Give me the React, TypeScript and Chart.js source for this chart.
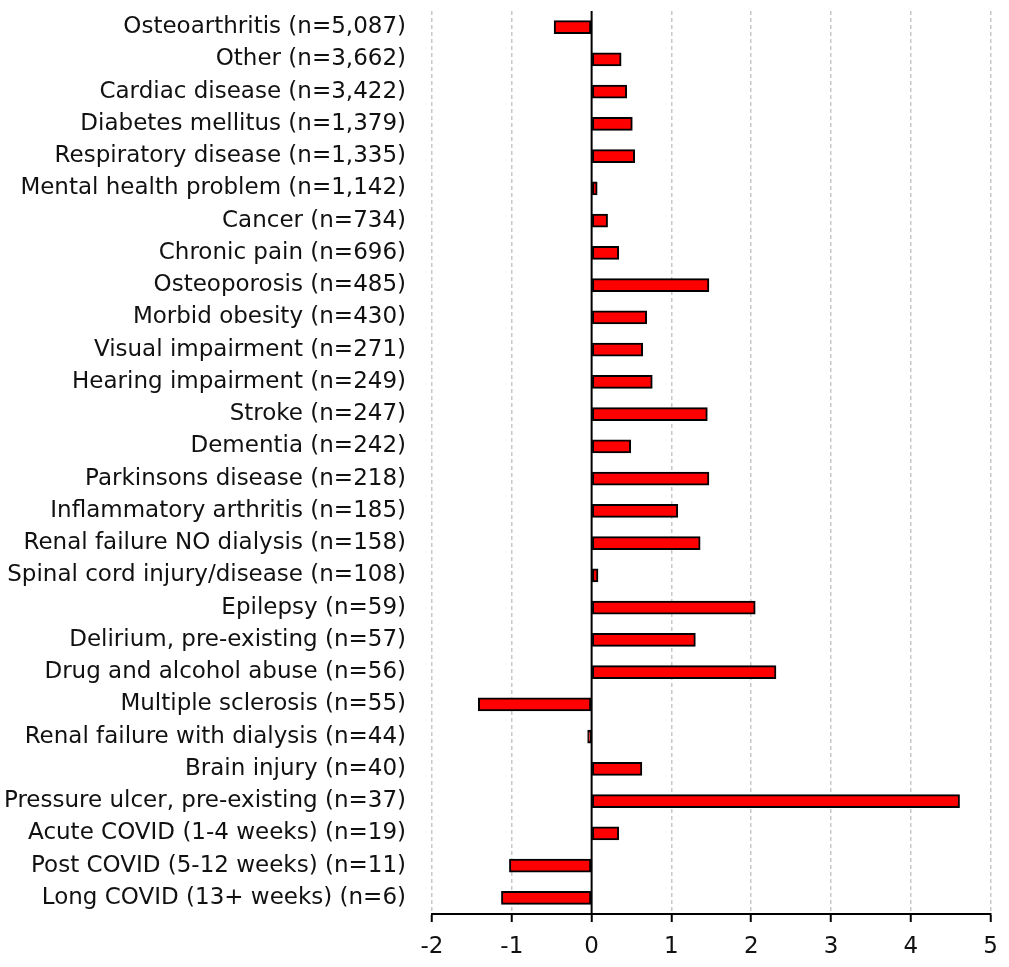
import React, { useEffect, useRef } from "react";
import { Chart, registerables } from "chart.js";

Chart.register(...registerables);

const categories = [
  "Osteoarthritis (n=5,087)",
  "Other (n=3,662)",
  "Cardiac disease (n=3,422)",
  "Diabetes mellitus (n=1,379)",
  "Respiratory disease (n=1,335)",
  "Mental health problem (n=1,142)",
  "Cancer (n=734)",
  "Chronic pain (n=696)",
  "Osteoporosis (n=485)",
  "Morbid obesity (n=430)",
  "Visual impairment (n=271)",
  "Hearing impairment (n=249)",
  "Stroke (n=247)",
  "Dementia (n=242)",
  "Parkinsons disease (n=218)",
  "Inflammatory arthritis (n=185)",
  "Renal failure NO dialysis (n=158)",
  "Spinal cord injury/disease (n=108)",
  "Epilepsy (n=59)",
  "Delirium, pre-existing (n=57)",
  "Drug and alcohol abuse (n=56)",
  "Multiple sclerosis (n=55)",
  "Renal failure with dialysis (n=44)",
  "Brain injury (n=40)",
  "Pressure ulcer, pre-existing (n=37)",
  "Acute COVID (1-4 weeks) (n=19)",
  "Post COVID (5-12 weeks) (n=11)",
  "Long COVID (13+ weeks) (n=6)",
];

const values = [
  -0.47, 0.37, 0.44, 0.51, 0.54, 0.07, 0.2, 0.34, 1.47, 0.69, 0.64, 0.76,
  1.45, 0.49, 1.47, 1.08, 1.36, 0.08, 2.05, 1.3, 2.31, -1.42, -0.05, 0.63,
  4.61, 0.34, -1.03, -1.13,
];

const xMin = -2;
const xMax = 5;
const FONT = "'DejaVu Sans'";

const zeroLine = {
  id: "zeroLine",
  afterDatasetsDraw(chart: any) {
    const { ctx, chartArea, scales } = chart;
    const x = scales.x.getPixelForValue(0);
    ctx.save();
    ctx.strokeStyle = "#000";
    ctx.lineWidth = 2;
    ctx.beginPath();
    ctx.moveTo(x, chartArea.top);
    ctx.lineTo(x, chartArea.bottom);
    ctx.stroke();
    ctx.restore();
  },
};

export default function App() {
  const ref = useRef<HTMLCanvasElement | null>(null);
  useEffect(() => {
    if (!ref.current) return;
    const chart = new Chart(ref.current, {
      type: "bar",
      data: {
        labels: categories,
        datasets: [
          {
            data: values,
            backgroundColor: "#ff0000",
            borderColor: "#000",
            borderWidth: 2,
            barThickness: 13,
            borderSkipped: false,
          },
        ],
      },
      options: {
        indexAxis: "y",
        animation: false,
        responsive: false,
        layout: { padding: { top: 11, right: 16, bottom: 0, left: 0 } },
        plugins: { legend: { display: false }, tooltip: { enabled: false } },
        scales: {
          x: {
            type: "linear",
            min: xMin,
            max: xMax,
            afterFit: (scale: any) => {
              scale.height = 53;
            },
            ticks: {
              stepSize: 1,
              color: "#111",
              padding: 11,
              font: { family: FONT, size: 23 },
            },
            grid: {
              color: (c: any) =>
                c.tick && c.tick.value === 0 ? "rgba(0,0,0,0)" : "#c8c8c8",
              lineWidth: 1.5,
              drawTicks: true,
              tickLength: 8,
              tickColor: "#000",
              tickWidth: 2,
              tickBorderDash: [],
            },
            border: { display: true, color: "#000", width: 2, dash: [4, 3] },
          },
          y: {
            type: "category",
            afterFit: (scale: any) => {
              scale.width = 432;
              scale.paddingTop = 0;
              scale.paddingBottom = 0;
            },
            ticks: {
              autoSkip: false,
              color: "#111",
              padding: 26,
              font: { family: FONT, size: 23 },
            },
            grid: { display: false, drawTicks: false },
            border: { display: false },
          },
        },
      },
      plugins: [zeroLine],
    });
    return () => chart.destroy();
  }, []);
  return (
    <div style={{ position: "absolute", left: 0, top: 0, width: 1009, height: 967 }}>
      <canvas ref={ref} width={1009} height={967} style={{ display: "block" }} />
    </div>
  );
}
